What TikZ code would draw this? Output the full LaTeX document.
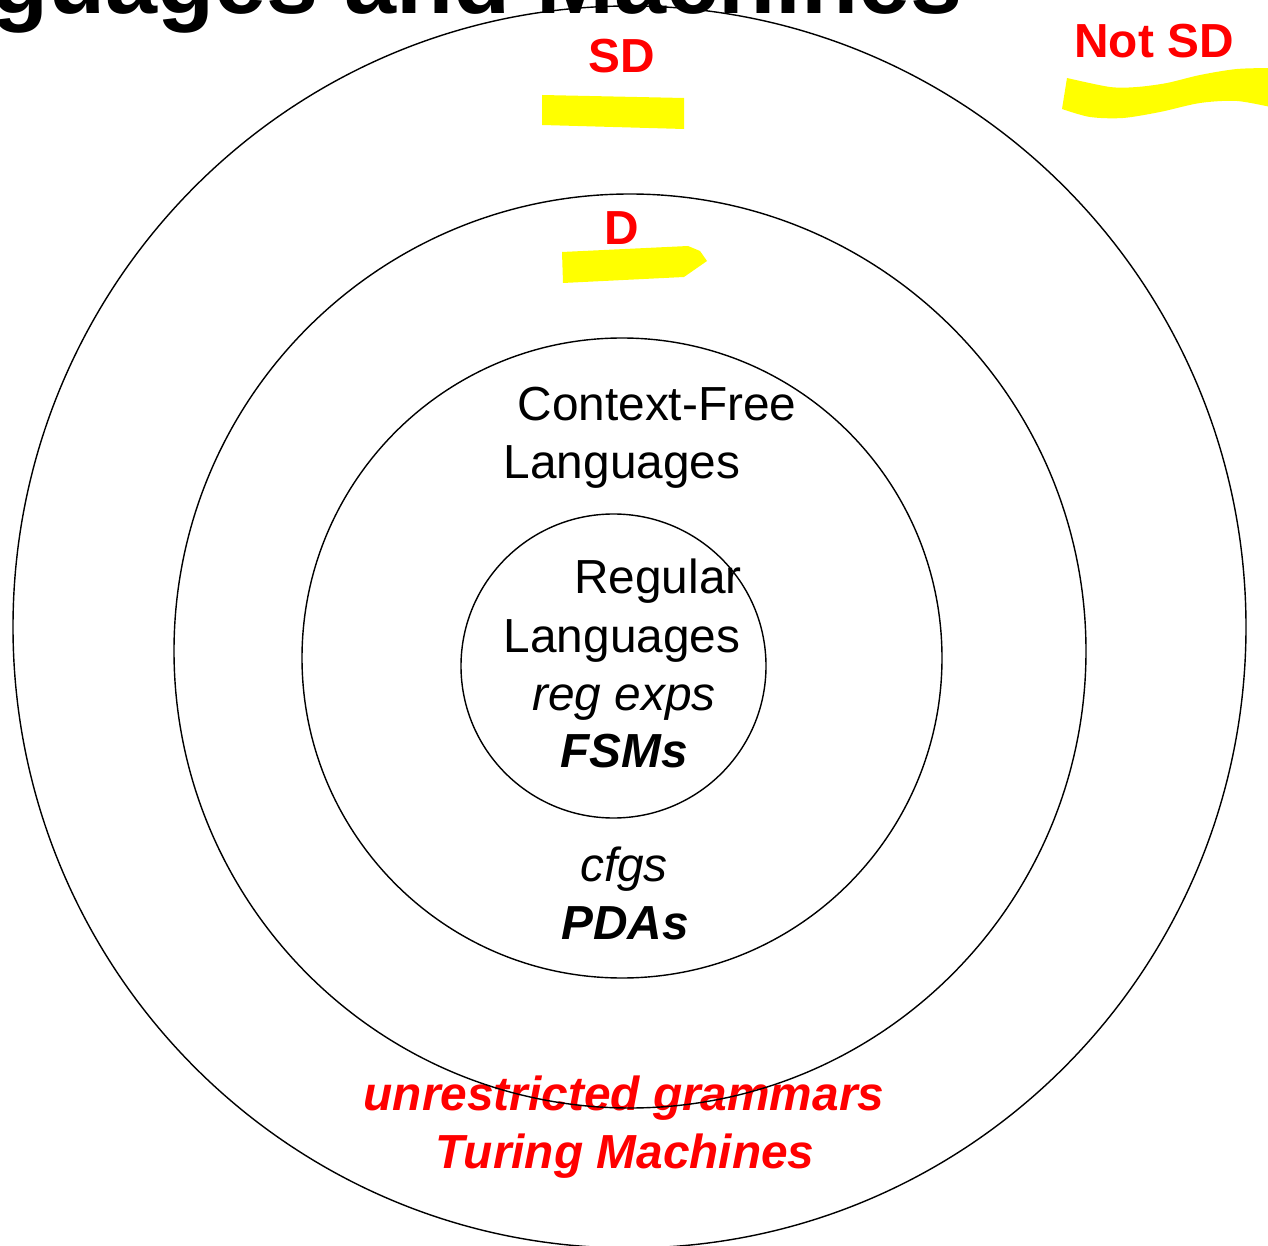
\documentclass[tikz,border=0pt]{standalone}
\usepackage{fontspec}
\setmainfont{Liberation Sans}
\usetikzlibrary{positioning}
\definecolor{hlyellow}{RGB}{255,255,0}
\definecolor{slidered}{RGB}{255,0,0}

\begin{document}
\begin{tikzpicture}[x=0.02cm, y=-0.02cm,
  ring/.style={draw, line width=0.8pt},
  lbl/.style={inner sep=0pt, anchor=base, font=\fontsize{27.2}{32}\selectfont},
  redlbl/.style={lbl, text=slidered, font=\fontsize{27.2}{32}\selectfont\bfseries},
  hl/.style={fill=hlyellow}]
\useasboundingbox (0,0) rectangle (1268,1246);

% highlighter marks
\fill[hl] (542,95) -- (684,98) -- (684,129) -- (542,125) -- cycle;
\fill[hl] (562,252) -- (688,246) -- (700,251) -- (707,261) -- (684,277) -- (563,283) -- cycle;
\fill[hl] plot[smooth] coordinates {(1067,78) (1110,87) (1137,87) (1167,83) (1200,75) (1237,69) (1275,68)}
  -- plot[smooth] coordinates {(1275,108) (1237,101) (1200,103) (1160,112) (1123,118) (1090,117) (1062,109)} -- cycle;

% title (cut off by the top edge)
\node[inner sep=0pt, anchor=base west, font=\fontsize{53.2}{60}\selectfont\bfseries] (title) at (-9,14) {guages and Machines};

% labels
\node[redlbl] (sd) at (622,73) {SD};
\node[redlbl] (notsd) at (1154,58) {Not SD};
\node[redlbl] (dec) at (622,245) {D};

\node[lbl] (cfl1) at (657,421) {Context-Free};
\node[lbl] (cfl2) at (622,479) {Languages};
\node[lbl] (reg1) at (658,594) {Regular};
\node[lbl] (reg2) at (622,652) {Languages};
\node[lbl, font=\fontsize{27.2}{32}\selectfont\itshape] (regex) at (624,710) {reg exps};
\node[lbl, font=\fontsize{27.2}{32}\selectfont\bfseries\itshape] (fsm) at (624,767) {FSMs};
\node[lbl, font=\fontsize{27.2}{32}\selectfont\itshape] (cfg) at (624,881) {cfgs};
\node[lbl, font=\fontsize{27.2}{32}\selectfont\bfseries\itshape] (pda) at (625,939) {PDAs};
\node[redlbl, font=\fontsize{27.2}{32}\selectfont\bfseries\itshape] (ug) at (624,1110) {unrestricted grammars};
\node[redlbl, font=\fontsize{27.2}{32}\selectfont\bfseries\itshape] (tm) at (625,1168) {Turing Machines};

% nested classes
\draw[ring] (629.5,627) ellipse [x radius=616.5, y radius=621];
\draw[ring] (630,651) ellipse [x radius=456, y radius=457];
\draw[ring] (622,658) ellipse [x radius=320, y radius=320];
\draw[ring] (613.5,666) ellipse [x radius=152.5, y radius=152];
\end{tikzpicture}
\end{document}
